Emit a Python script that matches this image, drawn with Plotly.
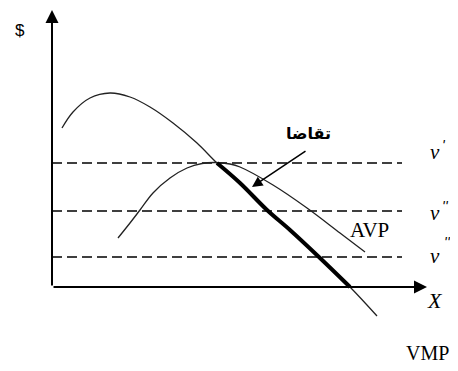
import plotly.graph_objects as go

# Diagram values (x: quantity units, y: $ units)
vmp_x = [1.0, 2.1, 3.8, 5.8, 7.8, 9.8, 12.1, 14.5, 16.5, 18.8, 21.5, 23.8, 26.8, 29.8, 32.5]
vmp_y = [15.9, 17.5, 18.9, 19.4, 19.0, 18.0, 16.4, 14.4, 12.4, 10.4, 7.7, 5.7, 2.9, 0.0, -2.9]

avp_x = [6.6, 7.8, 8.8, 10.1, 11.8, 13.5, 15.0, 16.3, 17.8, 18.8, 22.1, 25.5, 28.8, 31.3]
avp_y = [4.9, 6.4, 7.7, 9.4, 10.9, 11.9, 12.35, 12.45, 12.3, 12.0, 10.2, 7.9, 5.4, 3.5]

demand_x = vmp_x[8:14]
demand_y = vmp_y[8:14]

price_levels = [12.4, 7.6, 3.0]
price_prime_counts = [1, 2, 3]
dash_x_end = 35.0

axis_x_end = 37.5
axis_y_end = 27.7

fig = go.Figure()

for lvl in price_levels:
    fig.add_trace(go.Scatter(x=[0, dash_x_end], y=[lvl, lvl], mode="lines",
                             line=dict(color="black", width=1.6, dash="10px,5px"),
                             hoverinfo="skip", showlegend=False))

fig.add_trace(go.Scatter(x=vmp_x, y=vmp_y, mode="lines", line=dict(color="#222", width=1.3, shape="spline"),
                         showlegend=False))
fig.add_trace(go.Scatter(x=avp_x, y=avp_y, mode="lines", line=dict(color="#222", width=1.3, shape="spline"),
                         showlegend=False))
fig.add_trace(go.Scatter(x=demand_x, y=demand_y, mode="lines", line=dict(color="black", width=4, shape="spline"),
                         showlegend=False))

# axes with arrows
fig.add_annotation(x=0, y=axis_y_end, ax=0, ay=0, xref="x", yref="y", axref="x", ayref="y",
                   showarrow=True, arrowhead=2, arrowsize=1.3, arrowwidth=2, arrowcolor="black", text="")
fig.add_annotation(x=axis_x_end, y=0, ax=0, ay=0, xref="x", yref="y", axref="x", ayref="y",
                   showarrow=True, arrowhead=2, arrowsize=1.3, arrowwidth=2, arrowcolor="black", text="")

# pointer arrow to the demand segment
fig.add_annotation(x=20.0, y=10.0, ax=25.5, ay=13.7, xref="x", yref="y", axref="x", ayref="y",
                   showarrow=True, arrowhead=2, arrowsize=1.4, arrowwidth=1.5, arrowcolor="black", text="")

serif = "Liberation Serif, Times New Roman, serif"
fig.add_annotation(x=25.6, y=15.4, text="<b>تقاضا</b>", showarrow=False,
                   font=dict(family="DejaVu Sans", size=16, color="black"))
fig.add_annotation(x=31.7, y=5.7, text="AVP", showarrow=False, font=dict(family=serif, size=21, color="black"))
fig.add_annotation(x=37.5, y=-6.6, text="VMP", showarrow=False, font=dict(family=serif, size=20, color="black"))
fig.add_annotation(x=38.3, y=-1.3, text="<i>X</i>", showarrow=False, font=dict(family=serif, size=22, color="black"))
fig.add_annotation(x=-3.2, y=25.7, text="$", showarrow=False, font=dict(family="Liberation Sans", size=17, color="black"))

v_y = [13.5, 7.4, 3.1]
prime_pos = [(38.8, 14.2), (38.8, 8.1), (39.0, 4.5)]
for vy, n, (px, py) in zip(v_y, price_prime_counts, prime_pos):
    fig.add_annotation(x=37.6, y=vy, text="<i>v</i>", showarrow=False, xanchor="left",
                       font=dict(family=serif, size=21, color="black"))
    for i in range(n):
        fig.add_annotation(x=px + 0.3 * i, y=py, text="<i>'</i>", showarrow=False, xanchor="left",
                           font=dict(family="Liberation Sans", size=14, color="black"))

# page body has an 8px margin; figure is sized to the visible area
fig.update_layout(
    width=450, height=363, margin=dict(l=0, r=0, t=0, b=0),
    paper_bgcolor="white", plot_bgcolor="white",
    xaxis=dict(range=[-4.4, 40.6], visible=False, fixedrange=True),
    yaxis=dict(range=[-8.4, 27.9], visible=False, fixedrange=True),
)

fig.write_html("out.html")
